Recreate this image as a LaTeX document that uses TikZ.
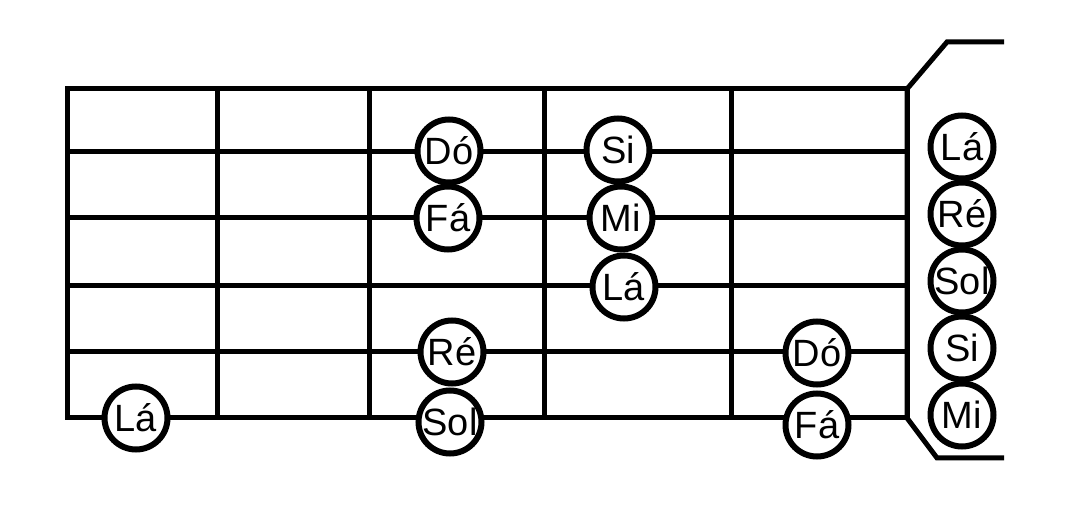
\documentclass[tikz,border=0pt]{standalone}
\usepackage{fontspec}
\setmainfont{Liberation Sans}
\usetikzlibrary{positioning}

\begin{document}
\begin{tikzpicture}[x=1pt, y=-1pt, line width=5pt,
    note/.style={circle, draw, line width=6pt, fill=white, minimum size=63pt, inner sep=0pt,
      font=\fontsize{38}{38}\selectfont}]
    \useasboundingbox (0,0) rectangle (1072,510);

    % Draw the fretboard
    \draw (67,89) rectangle (907,418);
    \foreach \y in {152,218,286,352}
        \draw (67,\y) -- (907,\y);
    \foreach \x in {217,369,544,731}
        \draw (\x,89) -- (\x,418);
    \draw (1004,42) -- (947,42) -- (907,89) -- (907,418) -- (937,458) -- (1004,458);

    % Notes on the frets
    \node[note] (la1)  at (136,418) {Lá};
    \node[note] (do1)  at (449,151) {Dó};
    \node[note] (fa1)  at (448,218) {Fá};
    \node[note] (re1)  at (452,352) {Ré};
    \node[note] (sol1) at (450,422) {Sol};
    \node[note] (si1)  at (618,150) {Si};
    \node[note] (mi1)  at (621,218) {Mi};
    \node[note] (la2)  at (624,287) {Lá};
    \node[note] (do2)  at (817,353) {Dó};
    \node[note] (fa2)  at (817,425) {Fá};

    % Open strings
    \node[note]                    (la0)  at (962,147) {Lá};
    \node[note,below=-2pt of la0]  (re0)  {Ré};
    \node[note,below=-2pt of re0]  (sol0) {Sol};
    \node[note,below=-2pt of sol0] (si0)  {Si};
    \node[note,below=-2pt of si0]  (mi0)  {Mi};
\end{tikzpicture}
\end{document}
